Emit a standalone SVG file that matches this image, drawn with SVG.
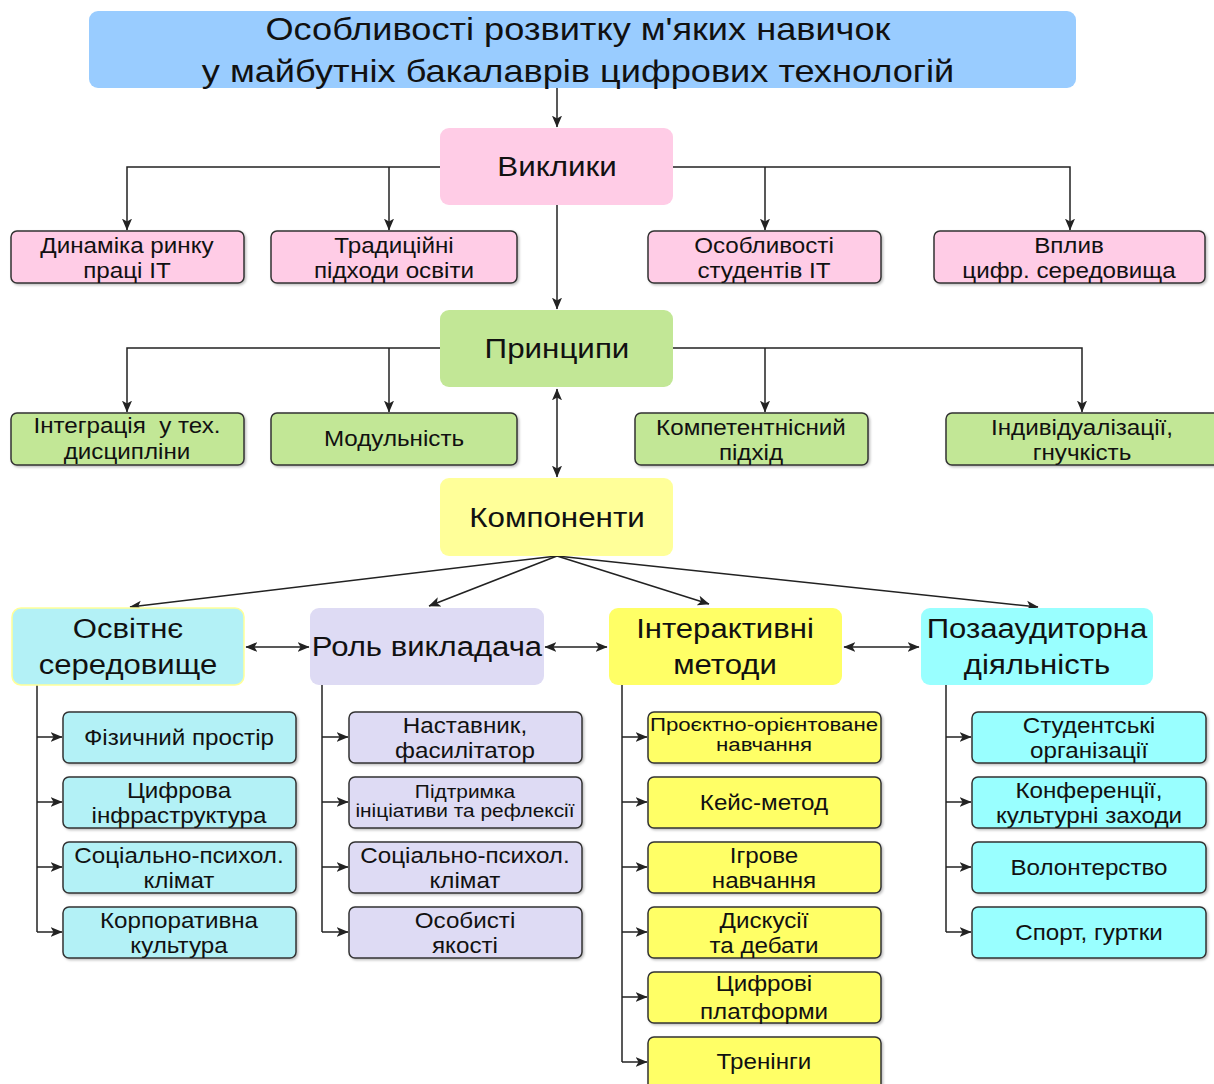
<svg xmlns="http://www.w3.org/2000/svg" width="1214" height="1084" viewBox="0 0 1214 1084">
<defs>
<marker id="ah" markerUnits="userSpaceOnUse" markerWidth="12" markerHeight="12" viewBox="0 0 10 10" refX="9.5" refY="5" orient="auto-start-reverse">
<path d="M0,0.8 L10,5 L0,9.2 L2.5,5 z" fill="#222"/>
</marker>
<filter id="sh" x="-5%" y="-10%" width="112%" height="130%">
<feDropShadow dx="1.5" dy="1.5" stdDeviation="1" flood-color="#000" flood-opacity="0.25"/>
</filter>
</defs>
<style>
text{font-family:"Liberation Sans",Arial,sans-serif;fill:#111;text-anchor:middle;transform-box:fill-box;transform-origin:center}
.hdr{stroke:none}
.sub{stroke:#333;stroke-width:1.5;filter:url(#sh)}
.t1{font-size:32px;transform:scaleX(1.13)}
.t2{font-size:28px;transform:scaleX(1.12)}
.t3{font-size:28px;transform:scaleX(1.11)}
.t4{font-size:22px;transform:scaleX(1.1)}
.t5{font-size:18.5px;transform:scaleX(1.13)}
.t6{font-size:19px;transform:scaleX(1.17)}
.pre{white-space:pre}
.c{fill:none;stroke:#222;stroke-width:1.5}
.a{marker-end:url(#ah)}
.b{marker-start:url(#ah);marker-end:url(#ah)}
.pink{fill:#ffcce6}
.green{fill:#c2e796}
.yel1{fill:#ffff99}
.cyan1{fill:#b3f1f6}
.lav{fill:#dedbf4}
.yel2{fill:#ffff66}
.cyan2{fill:#99ffff}
</style>
<rect width="1214" height="1084" fill="#fff"/>

<g id="connectors">
<path class="c a" d="M557,88 V127"/>
<path class="c a" d="M440,167 H127 V230"/>
<path class="c a" d="M389,167 V230"/>
<path class="c a" d="M672,167 H1070 V230"/>
<path class="c a" d="M765,167 V230"/>
<path class="c a" d="M557,205 V309"/>
<path class="c a" d="M440,348 H127 V412"/>
<path class="c a" d="M389,348 V412"/>
<path class="c a" d="M672,348 H1082 V412"/>
<path class="c a" d="M765,348 V412"/>
<path class="c b" d="M557,389 V477"/>
<path class="c a" d="M557,556 L130,607"/>
<path class="c a" d="M557,556 L429,606"/>
<path class="c a" d="M557,556 L709,604"/>
<path class="c a" d="M557,556 L1038,607"/>
<path class="c b" d="M246,647 H309"/>
<path class="c b" d="M545,647 H607"/>
<path class="c b" d="M844,647 H919"/>
<path class="c" d="M37,685 V932"/>
<path class="c a" d="M37,737 H62"/>
<path class="c a" d="M37,802 H62"/>
<path class="c a" d="M37,867 H62"/>
<path class="c a" d="M37,932 H62"/>
<path class="c" d="M322,685 V932"/>
<path class="c a" d="M322,737 H348"/>
<path class="c a" d="M322,802 H348"/>
<path class="c a" d="M322,867 H348"/>
<path class="c a" d="M322,932 H348"/>
<path class="c" d="M622,685 V1062"/>
<path class="c a" d="M622,737 H647"/>
<path class="c a" d="M622,802 H647"/>
<path class="c a" d="M622,867 H647"/>
<path class="c a" d="M622,932 H647"/>
<path class="c a" d="M622,997 H647"/>
<path class="c a" d="M622,1062 H647"/>
<path class="c" d="M946,685 V932"/>
<path class="c a" d="M946,737 H971"/>
<path class="c a" d="M946,802 H971"/>
<path class="c a" d="M946,867 H971"/>
<path class="c a" d="M946,932 H971"/>
</g>

<g id="title">
<rect class="hdr" x="89" y="11" width="987" height="77" rx="9" fill="#99ccff"/>
<text class="t1" x="578" y="40">Особливості розвитку м'яких навичок</text>
<text class="t1" x="578" y="82">у майбутніх бакалаврів цифрових технологій</text>
</g>

<g id="vyklyky">
<rect class="hdr pink" x="440" y="128" width="233" height="77" rx="9"/>
<text class="t2" x="557" y="176">Виклики</text>
</g>
<g id="dynamika">
<rect class="sub pink" x="11" y="231" width="233" height="52" rx="6"/>
<text class="t4" x="127" y="253">Динаміка ринку</text>
<text class="t4" x="127" y="278">праці ІТ</text>
</g>
<g id="tradytsiini">
<rect class="sub pink" x="271" y="231" width="246" height="52" rx="6"/>
<text class="t4" x="394" y="253">Традиційні</text>
<text class="t4" x="394" y="278">підходи освіти</text>
</g>
<g id="osoblyvosti">
<rect class="sub pink" x="648" y="231" width="233" height="52" rx="6"/>
<text class="t4" x="764" y="253">Особливості</text>
<text class="t4" x="764" y="278">студентів ІТ</text>
</g>
<g id="vplyv">
<rect class="sub pink" x="934" y="231" width="271" height="52" rx="6"/>
<text class="t4" x="1069" y="253">Вплив</text>
<text class="t4" x="1069" y="278">цифр. середовища</text>
</g>

<g id="pryntsypy">
<rect class="hdr green" x="440" y="310" width="233" height="77" rx="9"/>
<text class="t2" x="557" y="358">Принципи</text>
</g>
<g id="intehratsiia">
<rect class="sub green" x="11" y="413" width="233" height="52" rx="6"/>
<text class="t4 pre" x="127" y="433">Інтеграція  у тех.</text>
<text class="t4" x="127" y="459">дисципліни</text>
</g>
<g id="modulnist">
<rect class="sub green" x="271" y="413" width="246" height="52" rx="6"/>
<text class="t4" x="394" y="446">Модульність</text>
</g>
<g id="kompetentnisnyi">
<rect class="sub green" x="635" y="413" width="233" height="52" rx="6"/>
<text class="t4" x="751" y="435">Компетентнісний</text>
<text class="t4" x="751" y="460">підхід</text>
</g>
<g id="indyvidualizatsii">
<rect class="sub green" x="946" y="413" width="280" height="52" rx="6"/>
<text class="t4" x="1082" y="435">Індивідуалізації,</text>
<text class="t4" x="1082" y="460">гнучкість</text>
</g>

<g id="komponenty">
<rect class="hdr yel1" x="440" y="478" width="233" height="78" rx="9"/>
<text class="t2" x="557" y="527">Компоненти</text>
</g>

<g id="osvitnie">
<rect x="12" y="608" width="232" height="77" rx="9" fill="#b3f1f6" stroke="#ffff99" stroke-width="1.5"/>
<text class="t3" x="128" y="638">Освітнє</text>
<text class="t3" x="128" y="674">середовище</text>
</g>
<g id="rol">
<rect class="hdr lav" x="310" y="608" width="234" height="77" rx="9"/>
<text class="t3" x="427" y="656">Роль викладача</text>
</g>
<g id="interaktyvni">
<rect class="hdr yel2" x="609" y="608" width="233" height="77" rx="9"/>
<text class="t3" x="725" y="638">Інтерактивні</text>
<text class="t3" x="725" y="674">методи</text>
</g>
<g id="pozaaudytorna">
<rect class="hdr cyan2" x="921" y="608" width="232" height="77" rx="9"/>
<text class="t3" x="1037" y="638">Позааудиторна</text>
<text class="t3" x="1037" y="674">діяльність</text>
</g>

<g id="fizychnyi">
<rect class="sub cyan1" x="63" y="712" width="233" height="51" rx="6"/>
<text class="t4" x="179" y="745">Фізичний простір</text>
</g>
<g id="tsyfrova">
<rect class="sub cyan1" x="63" y="777" width="233" height="51" rx="6"/>
<text class="t4" x="179" y="798">Цифрова</text>
<text class="t4" x="179" y="823">інфраструктура</text>
</g>
<g id="klimat1">
<rect class="sub cyan1" x="63" y="842" width="233" height="51" rx="6"/>
<text class="t4" x="179" y="863">Соціально-психол.</text>
<text class="t4" x="179" y="888">клімат</text>
</g>
<g id="korporatyvna">
<rect class="sub cyan1" x="63" y="907" width="233" height="51" rx="6"/>
<text class="t4" x="179" y="928">Корпоративна</text>
<text class="t4" x="179" y="953">культура</text>
</g>

<g id="nastavnyk">
<rect class="sub lav" x="349" y="712" width="233" height="51" rx="6"/>
<text class="t4" x="465" y="733">Наставник,</text>
<text class="t4" x="465" y="758">фасилітатор</text>
</g>
<g id="pidtrymka">
<rect class="sub lav" x="349" y="777" width="233" height="51" rx="6"/>
<text class="t5" x="465" y="798">Підтримка</text>
<text class="t5" x="465" y="817">ініціативи та рефлексії</text>
</g>
<g id="klimat2">
<rect class="sub lav" x="349" y="842" width="233" height="51" rx="6"/>
<text class="t4" x="465" y="863">Соціально-психол.</text>
<text class="t4" x="465" y="888">клімат</text>
</g>
<g id="osobysti">
<rect class="sub lav" x="349" y="907" width="233" height="51" rx="6"/>
<text class="t4" x="465" y="928">Особисті</text>
<text class="t4" x="465" y="953">якості</text>
</g>

<g id="proektno">
<rect class="sub yel2" x="648" y="712" width="233" height="51" rx="6"/>
<text class="t6" x="764" y="731">Проєктно-орієнтоване</text>
<text class="t6" x="764" y="751">навчання</text>
</g>
<g id="keis">
<rect class="sub yel2" x="648" y="777" width="233" height="51" rx="6"/>
<text class="t4" x="764" y="810">Кейс-метод</text>
</g>
<g id="ihrove">
<rect class="sub yel2" x="648" y="842" width="233" height="51" rx="6"/>
<text class="t4" x="764" y="863">Ігрове</text>
<text class="t4" x="764" y="888">навчання</text>
</g>
<g id="dyskusii">
<rect class="sub yel2" x="648" y="907" width="233" height="51" rx="6"/>
<text class="t4" x="764" y="928">Дискусії</text>
<text class="t4" x="764" y="953">та дебати</text>
</g>
<g id="platformy">
<rect class="sub yel2" x="648" y="972" width="233" height="51" rx="6"/>
<text class="t4" x="764" y="991">Цифрові</text>
<text class="t4" x="764" y="1019">платформи</text>
</g>
<g id="treninhy">
<rect class="sub yel2" x="648" y="1037" width="233" height="60" rx="6"/>
<text class="t4" x="764" y="1069">Тренінги</text>
</g>

<g id="studentski">
<rect class="sub cyan2" x="972" y="712" width="234" height="51" rx="6"/>
<text class="t4" x="1089" y="733">Студентські</text>
<text class="t4" x="1089" y="758">організації</text>
</g>
<g id="konferentsii">
<rect class="sub cyan2" x="972" y="777" width="234" height="51" rx="6"/>
<text class="t4" x="1089" y="798">Конференції,</text>
<text class="t4" x="1089" y="823">культурні заходи</text>
</g>
<g id="volonterstvo">
<rect class="sub cyan2" x="972" y="842" width="234" height="51" rx="6"/>
<text class="t4" x="1089" y="875">Волонтерство</text>
</g>
<g id="sport">
<rect class="sub cyan2" x="972" y="907" width="234" height="51" rx="6"/>
<text class="t4" x="1089" y="940">Спорт, гуртки</text>
</g>
</svg>
